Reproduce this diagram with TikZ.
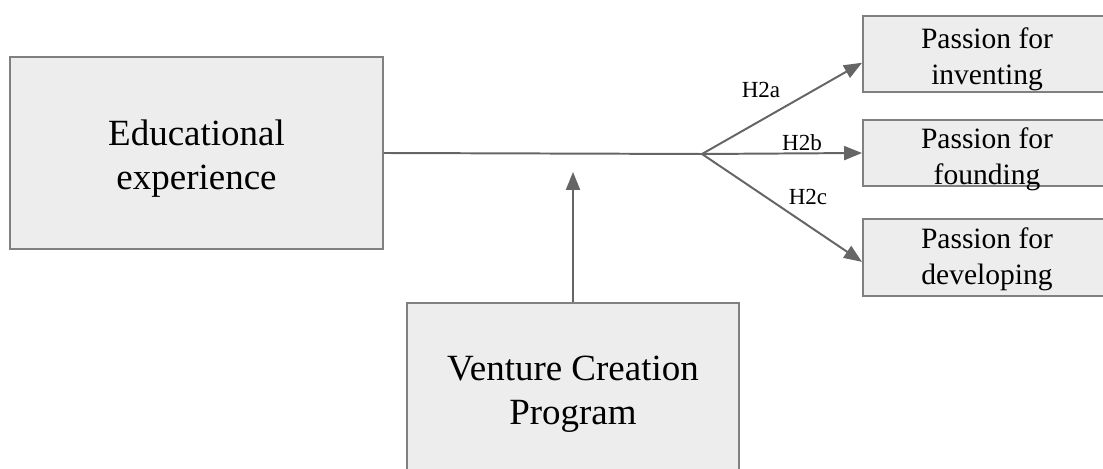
\documentclass[tikz,border=0pt]{standalone}
\usepackage{fontspec}
\setmainfont{Liberation Serif}
\usetikzlibrary{arrows.meta}

\definecolor{boxfill}{HTML}{EDEDED}
\definecolor{boxline}{HTML}{808080}
\definecolor{linkgray}{HTML}{656565}

\tikzset{
    box/.style={draw=boxline, fill=boxfill, line width=1.4pt, inner sep=0pt},
    bigtext/.style={align=center, inner sep=0pt, font=\fontsize{26.3}{31.3}\selectfont},
    smalltext/.style={align=center, inner sep=0pt, font=\fontsize{21}{25.6}\selectfont},
    hyp/.style={inner sep=0pt, font=\fontsize{16.4}{18}\selectfont},
    link/.style={draw=linkgray, line width=1.4pt},
    arr/.style={link, -{Triangle[length=12.8pt, width=10pt]}}
}

\begin{document}
\begin{tikzpicture}[scale=1]
    \useasboundingbox (0,0) rectangle (27.575,11.725);
    \clip (0,0) rectangle (27.575,11.725);

    % boxes
    \node[box, minimum width=9.325cm, minimum height=4.8cm] (edu) at (4.9125,7.9) {};
    \node[box, minimum width=8.3cm, minimum height=4.6cm] (vcp) at (14.325,1.85) {};
    \node[box, minimum width=6.2cm, minimum height=1.9cm] (inv) at (24.675,10.375) {};
    \node[box, minimum width=6.2cm, minimum height=1.65cm] (fnd) at (24.675,7.9) {};
    \node[box, minimum width=6.2cm, minimum height=1.925cm] (dev) at (24.675,5.2875) {};

    % box texts
    \node[bigtext] (edutxt) at (4.9125,7.7625) {Educational\\experience};
    \node[bigtext] (vcptxt) at (14.325,1.86) {Venture Creation\\Program};
    \node[smalltext] (invtxt) at (24.675,10.25) {Passion for\\inventing};
    \node[smalltext] (fndtxt) at (24.675,7.75) {Passion for\\founding};
    \node[smalltext] (devtxt) at (24.675,5.25) {Passion for\\developing};

    % split point and moderator target
    \coordinate (split) at (17.55,7.875);
    \coordinate (mod) at (14.325,7.425);

    % connectors
    \draw[link] (edu.east) -- (split);
    \draw[arr] (split) -- (inv.184);
    \draw[arr] (split) -- (fnd.west);
    \draw[arr] (split) -- (dev.182);
    \draw[arr] (vcp.north) -- (mod);

    % hypothesis labels
    \node[hyp] (h2a) at (19.025,9.475) {H2a};
    \node[hyp] (h2b) at (20.05,8.15) {H2b};
    \node[hyp] (h2c) at (20.2,6.8) {H2c};
\end{tikzpicture}
\end{document}
